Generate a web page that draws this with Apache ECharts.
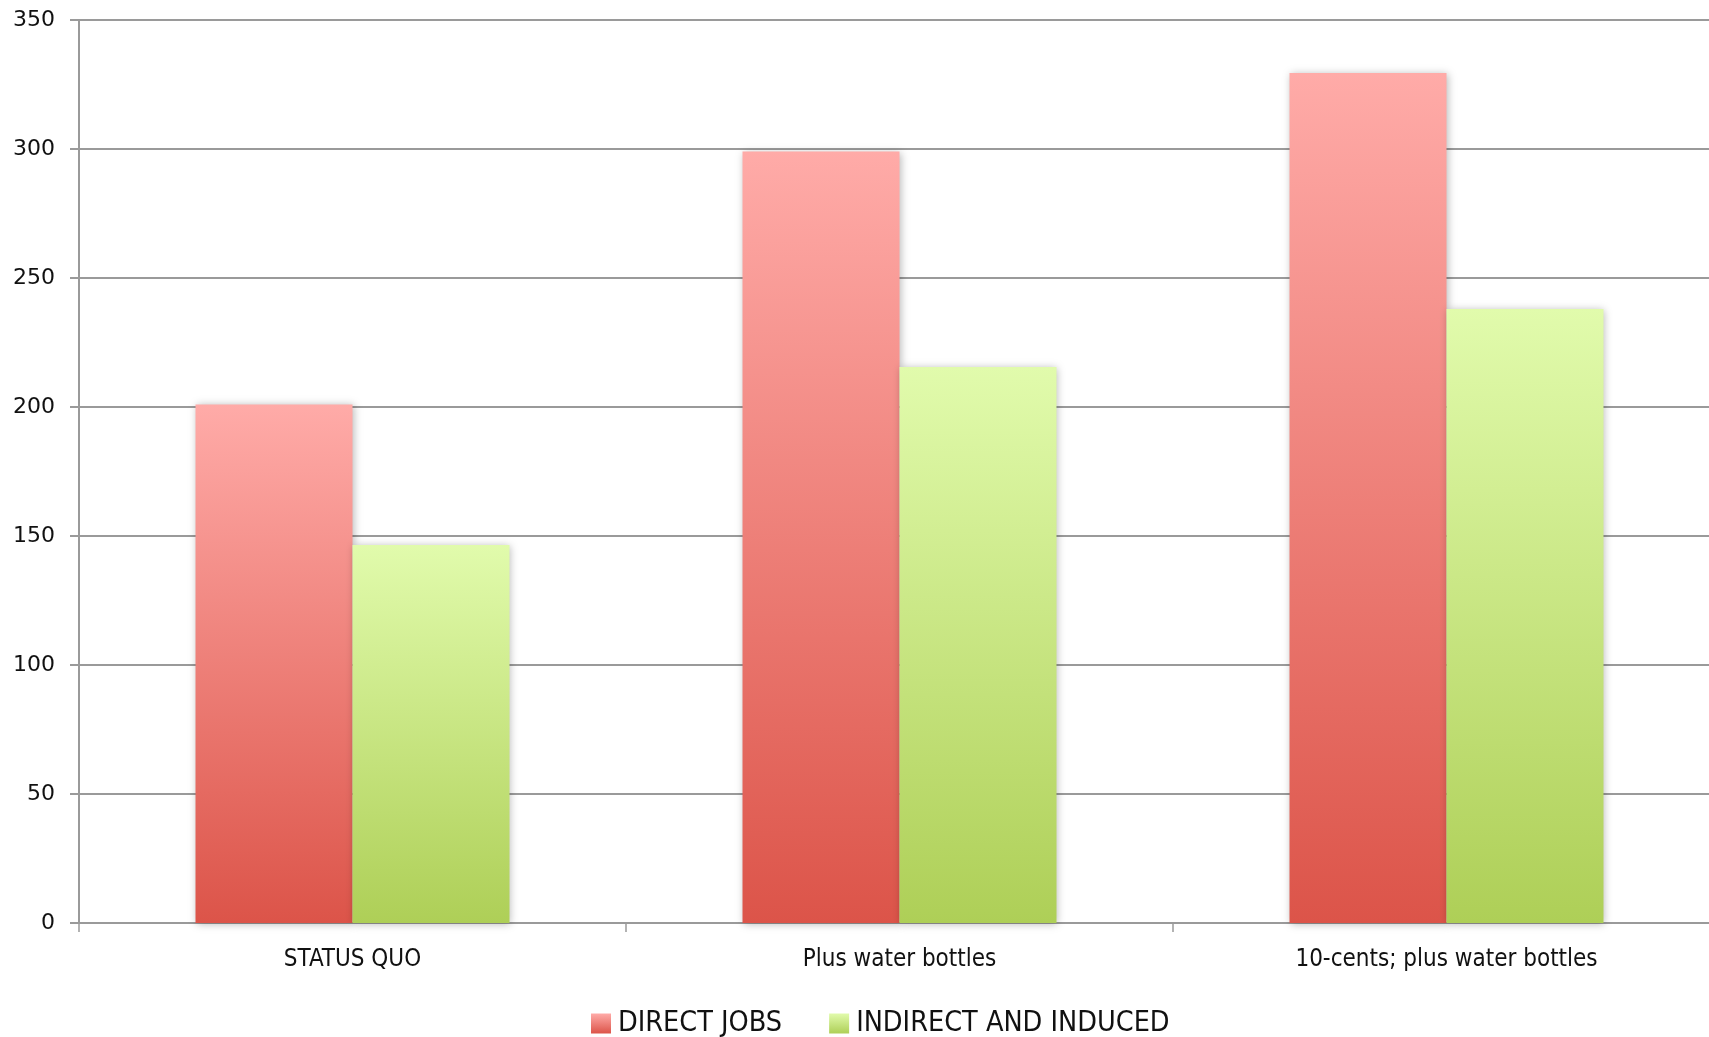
<!DOCTYPE html>
<html>
<head>
<meta charset="utf-8">
<script src="https://cdn.jsdelivr.net/npm/echarts@6/dist/echarts.min.js"></script>
<style>
  html, body { margin: 0; padding: 0; background: #fff; }
  #chart { width: 1709px; height: 1037px; }
</style>
</head>
<body>
<div id="chart"></div>
<script>
// Jobs by scenario
const categories = ['STATUS QUO', 'Plus water bottles', '10-cents; plus water bottles'];
const directJobs = [201, 299, 329.5];
const indirectInduced = [146.5, 215.5, 238];
const seriesNames = ['DIRECT JOBS', 'INDIRECT AND INDUCED'];

const chart = echarts.init(document.getElementById('chart'));

function vGrad(top, bottom) {
  return new echarts.graphic.LinearGradient(0, 0, 0, 1, [
    { offset: 0, color: top },
    { offset: 1, color: bottom }
  ]);
}

const barShadow = {
  shadowBlur: 8,
  shadowColor: 'rgba(0,0,0,0.28)',
  shadowOffsetX: 1,
  shadowOffsetY: 1
};

chart.setOption({
  animation: false,
  backgroundColor: '#ffffff',
  // plot area runs slightly past the right edge of the canvas
  grid: {
    left: 79, top: 20, width: 1641, bottom: 114,
    containLabel: false,
    outerBoundsMode: 'none'
  },
  legend: {
    top: 1004,
    left: 586,
    icon: 'rect',
    itemWidth: 20,
    itemHeight: 20,
    itemGap: 47,
    textStyle: { fontFamily: 'DejaVu Sans Condensed', fontSize: 28.5, color: '#111', padding: [0, 0, 0, 2] },
    data: seriesNames
  },
  xAxis: {
    type: 'category',
    data: categories,
    axisLine: { lineStyle: { color: '#9a9a9a', width: 2 } },
    axisTick: { show: true, length: 9, lineStyle: { color: '#9a9a9a', width: 1.5 } },
    axisLabel: {
      margin: 25,
      fontFamily: 'DejaVu Sans Condensed',
      fontSize: 24,
      color: '#111'
    }
  },
  yAxis: {
    type: 'value',
    min: 0,
    max: 350,
    interval: 50,
    axisLine: { show: true, lineStyle: { color: '#9a9a9a', width: 2 } },
    axisTick: { show: true, length: 9, lineStyle: { color: '#9a9a9a', width: 2 } },
    splitLine: { lineStyle: { color: '#9a9a9a', width: 2 } },
    axisLabel: {
      margin: 24,
      fontFamily: 'DejaVu Sans',
      fontSize: 22,
      color: '#111'
    }
  },
  series: [
    {
      name: seriesNames[0],
      type: 'bar',
      data: directJobs,
      barGap: '0%',
      barCategoryGap: '42.6%',
      itemStyle: Object.assign({ color: vGrad('#ffaba8', '#dc5449') }, barShadow)
    },
    {
      name: seriesNames[1],
      type: 'bar',
      data: indirectInduced,
      barGap: '0%',
      barCategoryGap: '42.6%',
      itemStyle: Object.assign({ color: vGrad('#e1fbac', '#aecf57') }, barShadow)
    }
  ]
});
</script>
</body>
</html>
